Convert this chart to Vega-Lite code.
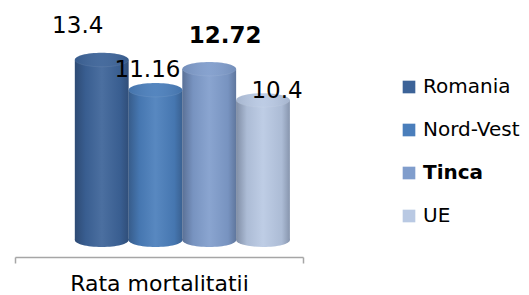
{
  "$schema": "https://vega.github.io/schema/vega-lite/v6.json",
  "autosize": "none",
  "width": 288,
  "height": 230,
  "padding": {"left": 15, "top": 10, "right": 226, "bottom": 55},
  "background": "white",
  "config": {
    "view": {"stroke": null},
    "font": "DejaVu Sans"
  },
  "data": {
    "values": [
      {"cat": "Rata mortalitatii", "series": "Romania", "value": 13.4},
      {"cat": "Rata mortalitatii", "series": "Nord-Vest", "value": 11.16},
      {"cat": "Rata mortalitatii", "series": "Tinca", "value": 12.72},
      {"cat": "Rata mortalitatii", "series": "UE", "value": 10.4}
    ]
  },
  "encoding": {
    "x": {
      "field": "cat", "type": "nominal",
      "scale": {"paddingInner": 0, "paddingOuter": 0},
      "axis": {
        "title": null, "domainColor": "#A6A6A6", "domainWidth": 1.5,
        "tickColor": "#A6A6A6", "tickWidth": 1.5, "tickSize": 6, "tickBand": "extent",
        "offset": 17, "labelFontSize": 22, "labelColor": "#000000",
        "labelPadding": 10, "labelAngle": 0, "labelFont": "DejaVu Sans"
      }
    },
    "xOffset": {
      "field": "series", "type": "nominal",
      "sort": ["Romania", "Nord-Vest", "Tinca", "UE"],
      "scale": {"paddingInner": 0, "paddingOuter": 0.679, "align": 0.82}
    },
    "y": {
      "field": "value", "type": "quantitative",
      "scale": {"domain": [0, 17.1], "nice": false},
      "axis": null
    }
  },
  "layer": [
    {
      "mark": {"type": "point", "filled": true, "opacity": 1, "size": 2890,
               "shape": "M -1 0 A 1 0.26 0 1 1 1 0 A 1 0.26 0 1 1 -1 0 Z"},
      "encoding": {
        "y": {"datum": 0},
        "color": {"field": "series", "type": "nominal",
                  "scale": {"domain": ["Romania", "Nord-Vest", "Tinca", "UE"],
                            "range": ["#3C6398", "#4A7EBB", "#809DCC", "#B9C9E3"]},
                  "legend": {
                    "title": null, "orient": "none", "legendX": 384, "legendY": 67,
                    "symbolType": "square", "symbolSize": 160, "symbolStrokeWidth": 0,
                    "symbolOpacity": 1,
                    "labelFontSize": 20, "labelFont": "DejaVu Sans", "labelColor": "#000000",
                    "labelOffset": 4, "rowPadding": 23, "padding": 0,
                    "encode": {"labels": {"update": {"fontWeight": {"signal": "datum.label === 'Tinca' ? 'bold' : 'normal'"}}}}
                  }}
      }
    },
    {
      "mark": {"type": "point", "filled": true, "opacity": 1, "size": 2890,
               "shape": "M -1 0 A 1 0.26 0 1 1 1 0 A 1 0.26 0 1 1 -1 0 Z",
               "fill": {"gradient": "linear", "x1": 0, "x2": 1, "y1": 0, "y2": 0,
                        "stops": [
                          {"offset": 0, "color": "rgba(20,30,50,0.35)"},
                          {"offset": 0.2, "color": "rgba(20,30,50,0.08)"},
                          {"offset": 0.5, "color": "rgba(255,255,255,0.08)"},
                          {"offset": 0.85, "color": "rgba(20,30,50,0.08)"},
                          {"offset": 1, "color": "rgba(20,30,50,0.3)"}
                        ]}},
      "encoding": {"y": {"datum": 0}}
    },
    {
      "mark": {"type": "bar", "width": {"band": 1}},
      "encoding": {
        "color": {"field": "series", "type": "nominal",
                  "scale": {"domain": ["Romania", "Nord-Vest", "Tinca", "UE"],
                            "range": ["#3C6398", "#4A7EBB", "#809DCC", "#B9C9E3"]}}
      }
    },
    {
      "mark": {"type": "bar", "width": {"band": 1},
               "fill": {"gradient": "linear", "x1": 0, "x2": 1, "y1": 0, "y2": 0,
                        "stops": [
                          {"offset": 0, "color": "rgba(20,30,50,0.35)"},
                          {"offset": 0.2, "color": "rgba(20,30,50,0.08)"},
                          {"offset": 0.5, "color": "rgba(255,255,255,0.08)"},
                          {"offset": 0.85, "color": "rgba(20,30,50,0.08)"},
                          {"offset": 1, "color": "rgba(20,30,50,0.3)"}
                        ]}},
      "encoding": {}
    },
    {
      "mark": {"type": "point", "filled": true, "opacity": 1, "size": 2890,
               "shape": "M -1 0 A 1 0.26 0 1 1 1 0 A 1 0.26 0 1 1 -1 0 Z",
               "stroke": "rgba(255,255,255,0.15)", "strokeWidth": 0.5},
      "encoding": {
        "color": {"field": "series", "type": "nominal",
                  "scale": {"domain": ["Romania", "Nord-Vest", "Tinca", "UE"],
                            "range": ["#3C6398", "#4A7EBB", "#809DCC", "#B9C9E3"]}}
      }
    },
    {
      "mark": {"type": "point", "filled": true, "opacity": 1, "size": 2890,
               "shape": "M -1 0 A 1 0.26 0 1 1 1 0 A 1 0.26 0 1 1 -1 0 Z",
               "fill": {"gradient": "linear", "x1": 0, "x2": 1, "y1": 0, "y2": 0,
                        "stops": [
                          {"offset": 0, "color": "rgba(20,30,50,0.12)"},
                          {"offset": 0.5, "color": "rgba(255,255,255,0.06)"},
                          {"offset": 1, "color": "rgba(20,30,50,0.12)"}
                        ]}},
      "encoding": {}
    },
    {
      "transform": [{"filter": "datum.series === 'Romania'"}],
      "mark": {"type": "text", "fontSize": 23, "font": "DejaVu Sans", "color": "#000000",
               "align": "center", "baseline": "alphabetic", "dx": -24, "dy": -27},
      "encoding": {"text": {"field": "value", "type": "quantitative"}}
    },
    {
      "transform": [{"filter": "datum.series === 'Nord-Vest'"}],
      "mark": {"type": "text", "fontSize": 23, "font": "DejaVu Sans", "color": "#000000",
               "align": "center", "baseline": "alphabetic", "dx": -8, "dy": -13},
      "encoding": {"text": {"field": "value", "type": "quantitative"}}
    },
    {
      "transform": [{"filter": "datum.series === 'Tinca'"}],
      "mark": {"type": "text", "fontSize": 23, "font": "DejaVu Sans", "fontWeight": "bold", "color": "#000000",
               "align": "center", "baseline": "alphabetic", "dx": 16, "dy": -26},
      "encoding": {"text": {"field": "value", "type": "quantitative"}}
    },
    {
      "transform": [{"filter": "datum.series === 'UE'"}],
      "mark": {"type": "text", "fontSize": 23, "font": "DejaVu Sans", "color": "#000000",
               "align": "center", "baseline": "alphabetic", "dx": 14, "dy": -2},
      "encoding": {"text": {"field": "value", "type": "quantitative"}}
    }
  ]
}
